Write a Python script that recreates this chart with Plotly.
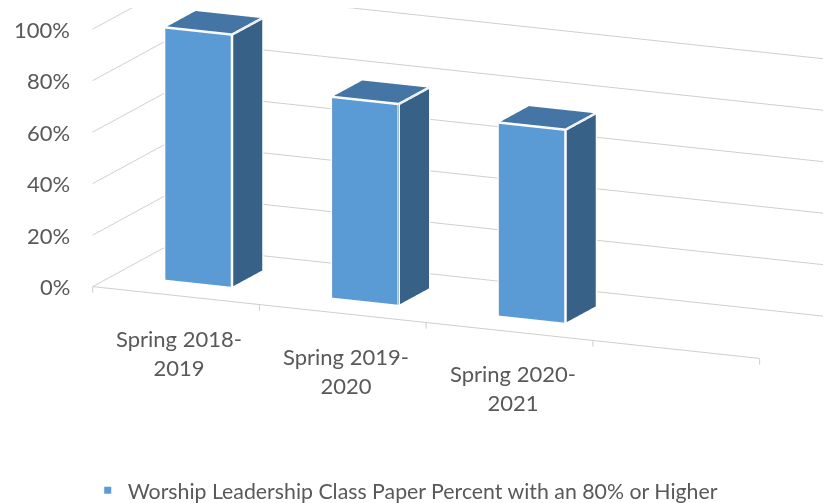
import math
import plotly.graph_objects as go

# ---------------- data ----------------
categories = ["Spring 2018-2019", "Spring 2019-2020", "Spring 2020-2021"]
category_labels = ["Spring 2018-<br>2019", "Spring 2019-<br>2020", "Spring 2020-<br>2021"]
values = [98, 78, 75]
series_name = "Worship Leadership Class Paper Percent with an 80% or Higher"
value_ticks = [0, 20, 40, 60, 80, 100]
value_tick_labels = ["0%", "20%", "40%", "60%", "80%", "100%"]
n_slots = 4  # the chart reserves one empty category slot on the right

# ---------------- style ----------------
FRONT = "#5b9bd5"
SIDE = "#386187"
TOP = "#4575a5"
GRID = "#cfcfcf"
TEXT = "#595959"
FONT = "Lato"
bar_half = 0.2
depth0, depth1 = 0.3, 0.7
tick_len = 2.4          # category tick length, in value units (drawn below the floor)
z_min = -3

fig = go.Figure()

for i, v in enumerate(values):
    xc = i + 1
    x0, x1 = xc - bar_half, xc + bar_half
    y0, y1 = depth0, depth1
    z0, z1 = 0, v
    xs = [x0, x1, x1, x0, x0, x1, x1, x0]
    ys = [y0, y0, y1, y1, y0, y0, y1, y1]
    zs = [z0, z0, z0, z0, z1, z1, z1, z1]
    I = [0, 0, 4, 4, 0, 0, 3, 3, 0, 0, 1, 1]
    J = [1, 2, 5, 6, 1, 5, 2, 6, 3, 7, 2, 6]
    K = [2, 3, 6, 7, 5, 4, 6, 7, 7, 4, 6, 5]
    fc = [SIDE, SIDE, TOP, TOP, FRONT, FRONT, SIDE, SIDE, SIDE, SIDE, SIDE, SIDE]
    fig.add_trace(go.Mesh3d(
        x=xs, y=ys, z=zs, i=I, j=J, k=K, facecolor=fc, flatshading=True,
        lighting=dict(ambient=1, diffuse=0, specular=0, roughness=1, fresnel=0),
        hoverinfo="skip", showlegend=False, name=categories[i]))
    # white outline of the visible faces
    ex = [x0, x1, x1, x1, x0, x0, x0, None, x0, x1, x1, None, x1, x1]
    ey = [y0, y0, y1, y1, y1, y0, y0, None, y0, y0, y1, None, y0, y0]
    ez = [z0, z0, z0, z1, z1, z1, z0, None, z1, z1, z1, None, z1, z0]
    fig.add_trace(go.Scatter3d(x=ex, y=ey, z=ez, mode="lines",
                               line=dict(color="white", width=5),
                               hoverinfo="skip", showlegend=False))

# category axis: front floor edge with tick marks between the categories
tick_pos = [k + 0.5 for k in range(n_slots + 1)]
ax_x, ax_y, ax_z = [tick_pos[0], tick_pos[-1], None], [0, 0, None], [0, 0, None]
for t in tick_pos:
    ax_x += [t, t, None]
    ax_y += [0, 0, None]
    ax_z += [0, -tick_len, None]
fig.add_trace(go.Scatter3d(x=ax_x, y=ax_y, z=ax_z, mode="lines",
                           line=dict(color=GRID, width=2),
                           hoverinfo="skip", showlegend=False))

# legend entry
fig.add_trace(go.Scatter3d(x=[None], y=[None], z=[None], mode="markers",
                           marker=dict(symbol="square", size=7, color=FRONT),
                           name=series_name, showlegend=True))

annotations = []
for t, lab in zip(value_ticks, value_tick_labels):
    annotations.append(dict(x=0.5, y=0, z=t, text=lab, showarrow=False,
                            xanchor="right", yanchor="middle", xshift=-21,
                            font=dict(family=FONT, size=22, color=TEXT)))
for i, lab in enumerate(category_labels):
    annotations.append(dict(x=i + 1, y=0, z=0, text=lab, showarrow=False,
                            xanchor="center", yanchor="top", yshift=-27, xshift=3,
                            font=dict(family=FONT, size=22, color=TEXT)))

# camera (orthographic view, rotated like the original 3-D column chart)
alpha = math.radians(24)
beta = math.radians(14)
R = 1.5
ca, sa, cb, sb = math.cos(alpha), math.sin(alpha), math.cos(beta), math.sin(beta)
right = (ca, sa, 0.0)
up = (-sb * sa, sb * ca, cb)
shift_r, shift_u = -0.1633, -0.3165
center = dict(x=shift_r * right[0] + shift_u * up[0],
              y=shift_r * right[1] + shift_u * up[1],
              z=shift_r * right[2] + shift_u * up[2])
eye = dict(x=center["x"] + R * cb * sa,
           y=center["y"] - R * cb * ca,
           z=center["z"] + R * sb)

common = dict(showspikes=False, showbackground=False, zeroline=False,
              title=dict(text=""), showticklabels=False, ticks="")

fig.update_layout(
    width=831, height=503,
    margin=dict(l=0, r=0, t=0, b=0),
    paper_bgcolor="white",
    showlegend=True,
    legend=dict(orientation="h", x=0.478, xanchor="center", y=0.025, yanchor="middle",
                font=dict(family=FONT, size=21.3, color=TEXT), bgcolor="rgba(0,0,0,0)"),
    scene=dict(
        domain=dict(x=[0, 1], y=[0, 1]),
        aspectmode="manual",
        aspectratio=dict(x=2.95, y=0.75, z=1.104),
        xaxis=dict(range=[0.5, n_slots + 0.5], showgrid=False, showline=False, **common),
        yaxis=dict(range=[0, 1], showgrid=False, showline=False, **common),
        zaxis=dict(range=[z_min, 100], showgrid=True, gridcolor=GRID, gridwidth=2,
                   tickvals=value_ticks, showline=False, **common),
        camera=dict(eye=eye, center=center, up=dict(x=0, y=0, z=1),
                    projection=dict(type="orthographic")),
        annotations=annotations,
        dragmode=False,
    ),
)

fig.write_html("out.html")
